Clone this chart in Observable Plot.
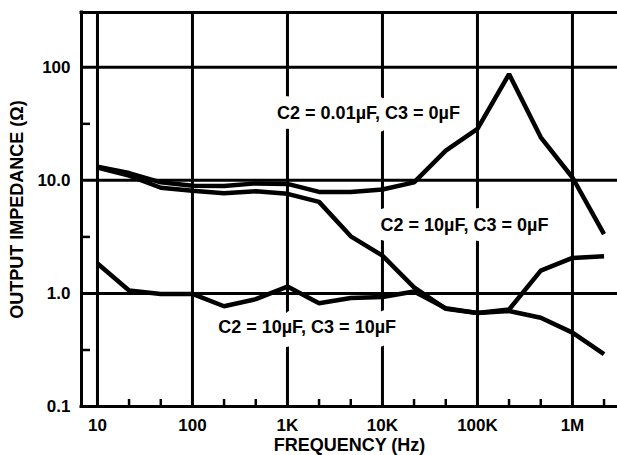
<!DOCTYPE html>
<html><head><meta charset="utf-8">
<script src="https://cdn.jsdelivr.net/npm/d3@7"></script>
<script src="https://cdn.jsdelivr.net/npm/@observablehq/plot@0.6"></script>
<style>body{margin:0;background:#fff}</style>
</head><body><div id="chart"></div>
<script>
// Frequencies (Hz), 1/3-decade steps
const freq = [10, 21.5, 46.4, 100, 215, 464, 1000, 2150, 4640, 10000, 21500, 46400, 100000, 215000, 464000, 1000000, 2150000];
// Output impedance (ohms)
const zA = [13.2, 11.6, 9.6, 8.97, 8.9, 9.4, 9.3, 7.9, 7.9, 8.3, 9.6, 18.3, 28.5, 87, 24, 10.6, 3.35]; // C2 = 0.01uF, C3 = 0uF
const zB = [13.0, 11.0, 8.6, 8.1, 7.7, 8.0, 7.6, 6.45, 3.2, 2.16, 1.13, 0.73, 0.67, 0.72, 1.59, 2.06, 2.13]; // C2 = 10uF, C3 = 0uF
const zC = [1.84, 1.06, 0.99, 0.99, 0.77, 0.89, 1.15, 0.82, 0.91, 0.93, 1.04, 0.74, 0.67, 0.70, 0.61, 0.45, 0.29]; // C2 = 10uF, C3 = 10uF
const seriesNames = ["A", "B", "C"];

const annoText = ["C2 = 0.01µF, C3 = 0µF", "C2 = 10µF, C3 = 0µF", "C2 = 10µF, C3 = 10µF"];
const annoX = [7130, 73000, 1610];
const annoY = [38.9, 3.97, 0.5];

const xMajor = [10, 100, 1000, 10000, 100000, 1000000];
const xTickLabels = ["10", "100", "1K", "10K", "100K", "1M"];
const xMinor = [21.5, 46.4, 215, 464, 2150, 4640, 21500, 46400, 215000, 464000, 2150000];
const yGrid = [1, 10, 100];
const yTicks = [0.1, 1, 10, 100];
const yTickLabels = ["0.1", "1.0", "10.0", "100"];
const yMinor = [0.316, 3.16, 31.6];

const xDomain = [6.79, 2.98e6];
const yDomain = [0.1, 305];

const rows = [];
[zA, zB, zC].forEach((arr, s) => arr.forEach((z, i) => rows.push({f: freq[i], z, series: seriesNames[s]})));

const chart = Plot.plot({
  width: 617, height: 455,
  marginLeft: 81, marginRight: 0, marginTop: 12, marginBottom: 49,
  x: {type: "log", domain: xDomain, axis: null},
  y: {type: "log", domain: yDomain, axis: null},
  style: {fontFamily: "'Liberation Sans', Arial, sans-serif", fontWeight: "bold", background: "white", color: "black"},
  marks: [
    Plot.ruleX(xMajor, {stroke: "black", strokeWidth: 3}),
    Plot.ruleY(yGrid, {stroke: "black", strokeWidth: 3}),
    Plot.ruleX(xMinor, {stroke: "black", strokeWidth: 2.5, insetTop: 387}),
    Plot.ruleY(yMinor, {stroke: "black", strokeWidth: 2.5, insetRight: 527}),
    Plot.ruleY([yDomain[0], yDomain[1]], {stroke: "black", strokeWidth: 3, strokeLinecap: "square"}),
    Plot.ruleX([xDomain[0]], {stroke: "black", strokeWidth: 3, strokeLinecap: "square"}),
    Plot.text(annoText, {x: (d, i) => annoX[i], y: (d, i) => annoY[i], text: d => d, fontSize: 18, fontWeight: "bold",
      fill: "black", stroke: "white", strokeWidth: 20, strokeLinejoin: "round"}),
    Plot.line(rows, {x: "f", y: "z", z: "series", stroke: "black", strokeWidth: 4.5, strokeLinejoin: "miter", strokeLinecap: "butt"}),
    Plot.text(xMajor, {x: d => d, text: xTickLabels, frameAnchor: "bottom", dy: 19, lineAnchor: "middle", textAnchor: "middle", fontSize: 17, fontWeight: "bold", fill: "black"}),
    Plot.text(yTicks, {y: d => d, text: yTickLabels, frameAnchor: "left", dx: -11, textAnchor: "end", lineAnchor: "middle", fontSize: 17, fontWeight: "bold", fill: "black"}),
    Plot.text(["OUTPUT IMPEDANCE (Ω)"], {frameAnchor: "left", dx: -64, rotate: -90, textAnchor: "middle", lineAnchor: "middle", fontSize: 18, fontWeight: "bold", fill: "black"}),
    Plot.text(["FREQUENCY (Hz)"], {frameAnchor: "bottom", dy: 39, textAnchor: "middle", lineAnchor: "middle", fontSize: 18, fontWeight: "bold", fill: "black"})
  ]
});
document.getElementById("chart").appendChild(chart);
</script>
</body></html>
